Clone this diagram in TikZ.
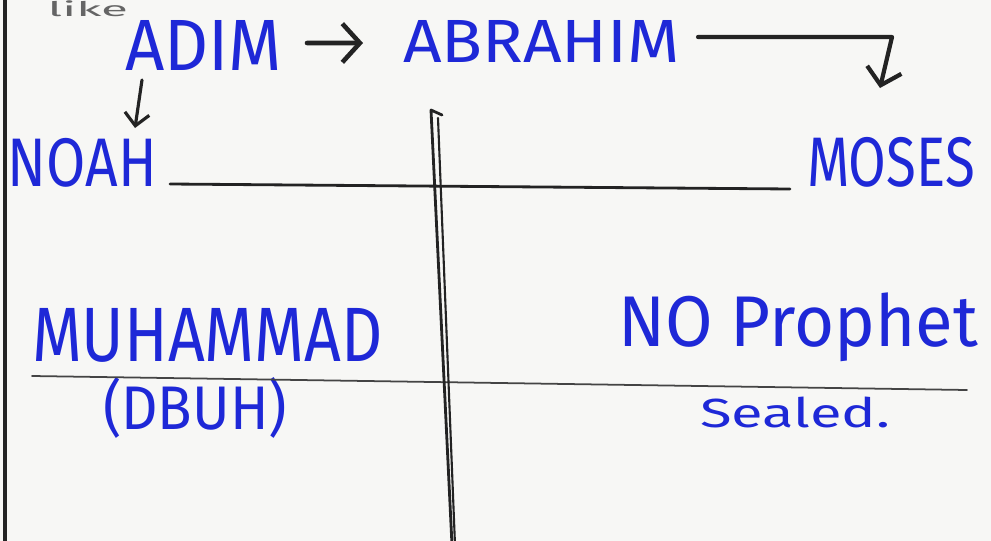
\documentclass[tikz,border=0pt]{standalone}
\usepackage{fontspec}
\setmainfont{Fira Sans}
\usepackage{graphicx}
\usetikzlibrary{arrows.meta,calc}
\definecolor{ink}{RGB}{30,40,215}
\definecolor{pencil}{RGB}{35,35,35}
\definecolor{paper}{RGB}{247,247,245}
\newlength\pxu
\setlength\pxu{0.02cm}
\newcommand{\fitbox}[3]{\resizebox*{#1\pxu}{#2\pxu}{#3}}
\begin{document}
\begin{tikzpicture}[x=0.02cm,y=-0.02cm,
  word/.style={inner sep=0pt, outer sep=0pt, anchor=north west, text=ink},
  pen/.style={draw=pencil, line cap=round, line join=round},
  tipbig/.style={-{Straight Barb[length=10pt,width=22pt]}},
  tipsmall/.style={-{Straight Barb[length=7pt,width=14pt]}}]
\useasboundingbox (0,0) rectangle (991,541);
\clip (0,0) rectangle (991,541);
\fill[paper] (0,0) rectangle (991,541);
% partial word at top
\node[word, text=pencil!70] (like) at (48,1) {\fitbox{80}{16}{like}};
% names
\node[word] (adim) at (125,20) {\fitbox{157}{50}{ADIM}};
\node[word] (abrahim) at (403,20) {\fitbox{277}{42}{ABRAHIM}};
\node[word] (noah) at (8,138) {\fitbox{149}{49}{NOAH}};
\node[word] (moses) at (807,137) {\fitbox{168}{50}{MOSES}};
\node[word] (muhammad) at (32,308) {\fitbox{351}{54}{MUHAMMAD}};
\node[word] (dbuh) at (103,377) {\fitbox{184}{61}{(DBUH)}};
\node[word] (noprophet) at (618,293) {\fitbox{360}{69}{NO Prophet}};
\node[word] (sealed) at (700,397) {\fitbox{190}{31}{Sealed.}};
% table lines
\coordinate (border top) at (5,0);
\coordinate (border bot) at (5,541);
\draw[pen, line width=2.2pt] (border top) -- (border bot);
\coordinate (h1a) at (170,184);
\coordinate (h1b) at (790,189);
\draw[pen, line width=1.6pt] (h1a) -- (h1b);
\coordinate (h2a) at (32,376);
\coordinate (h2b) at (967,390);
\draw[pen, line width=1pt, draw=pencil!85] (h2a) -- (h2b);
\coordinate (v1top) at (431,110);
\coordinate (v1bot) at (452,545);
\coordinate (v2top) at (438,118);
\coordinate (v2bot) at (455,545);
\coordinate (hook) at (442,115);
\draw[pen, line width=1.6pt] (hook) -- (v1top) -- (v1bot);
\draw[pen, line width=1.2pt] (v2top) -- (v2bot);
% arrows
\draw[pen, line width=2.6pt, tipbig] ($(adim.east)+(25,-2)$) -- ($(abrahim.west)+(-40,2)$);
\draw[pen, line width=1.8pt, tipsmall] ($(adim.south west)+(17,10)$) -- ($(noah.north east)+(-22,-10)$);
\draw[pen, line width=2.4pt, -{Straight Barb[length=9pt,width=20pt]}] ($(abrahim.east)+(18,-4)$) -- ($(moses.north)+(1,-100)$) -- ($(moses.north)+(-11,-49)$);
\end{tikzpicture}
\end{document}
